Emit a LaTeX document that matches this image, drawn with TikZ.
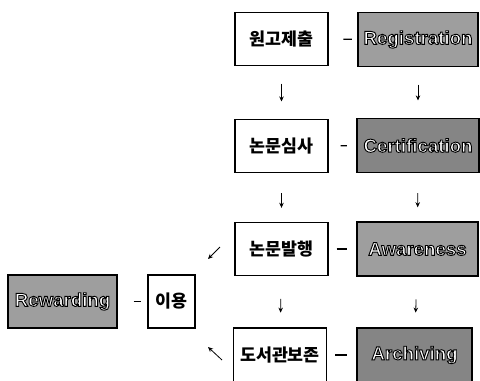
\documentclass[tikz,border=0pt]{standalone}
\usepackage{fontspec}
\setmainfont{Liberation Sans}
\newfontfamily\kr{Noto Sans CJK KR}
\newfontfamily\grayfont[FakeBold=5]{Liberation Sans Bold}
\usetikzlibrary{arrows.meta}
\newcommand\outl[1]{\special{pdf:bcolor [1] [0]}#1\special{pdf:ecolor}}
\begin{document}
\begin{tikzpicture}[x=0.75pt,y=-0.75pt,
  wbox/.style={draw=black, line width=1pt, fill=white, inner sep=0pt,
    minimum width=69.75pt, minimum height=39.75pt,
    font=\kr\bfseries\fontsize{13}{15}\selectfont},
  gbox/.style={draw=black, line width=1.1pt, fill=black!38, inner sep=0pt,
    minimum height=40.5pt, text=white,
    font=\grayfont\fontsize{14}{16}\selectfont},
  dgbox/.style={gbox, fill=black!48},
  arr/.style={-{Stealth[length=3.8pt,width=3.4pt]}, line width=0.6pt},
  linkdash/.style={line width=1pt}]
\useasboundingbox (0,0) rectangle (480,380);
% left column
\node[wbox] (b1) at (281.5,39) {원고제출};
\node[wbox] (b2) at (281.5,146) {논문심사};
\node[wbox] (b3) at (281.5,249) {논문발행};
\node[wbox, minimum height=40.5pt] (b4) at (280,355) {도서관보존};
% right column
\node[gbox, minimum width=90pt] (r1) at (418,39.5) {\outl{Registration}};
\node[dgbox, minimum width=91.5pt] (r2) at (418,145.5) {\outl{Certification}};
\node[gbox, minimum width=90.75pt] (r3) at (417.5,249) {\outl{Awareness}};
\node[dgbox, minimum width=86.25pt] (r4) at (414.5,355) {\outl{Archiving}};
% left nodes
\node[gbox, minimum width=81.75pt, minimum height=39.75pt] (rw) at (62.5,301.5) {\outl{Rewarding}};
\node[wbox, minimum width=35.25pt] (use) at (171.5,301.5) {이용};
% down arrows
\draw[arr, shorten <=13pt, shorten >=13pt] (b1) -- (b2);
\draw[arr, shorten <=15pt, shorten >=10.5pt] (b2) -- (b3);
\draw[arr, shorten <=17pt, shorten >=11pt] (b3) -- (b4);
\draw[arr, shorten <=13pt, shorten >=13pt] (r1) -- (r2);
\draw[arr, shorten <=15pt, shorten >=10.5pt] (r2) -- (r3);
\draw[arr, shorten <=17pt, shorten >=11pt] (r3) -- (r4);
% dashes
\draw[linkdash, shorten <=11pt, shorten >=4pt] (b1) -- (r1);
\draw[linkdash, shorten <=9pt, shorten >=7pt] (b2) -- (r2);
\draw[linkdash, shorten <=6pt, shorten >=7pt] (b3) -- (r3);
\draw[linkdash, shorten <=6pt, shorten >=7pt] (b4) -- (r4);
\draw[linkdash, shorten <=12pt, shorten >=5pt] (rw) -- (use);
% diagonal arrows
\coordinate (d1a) at (220,247);
\coordinate (d1b) at (208,259);
\coordinate (d2a) at (222,360);
\coordinate (d2b) at (208,347);
\draw[arr] (d1a) -- (d1b);
\draw[arr] (d2a) -- (d2b);
\end{tikzpicture}
\end{document}
